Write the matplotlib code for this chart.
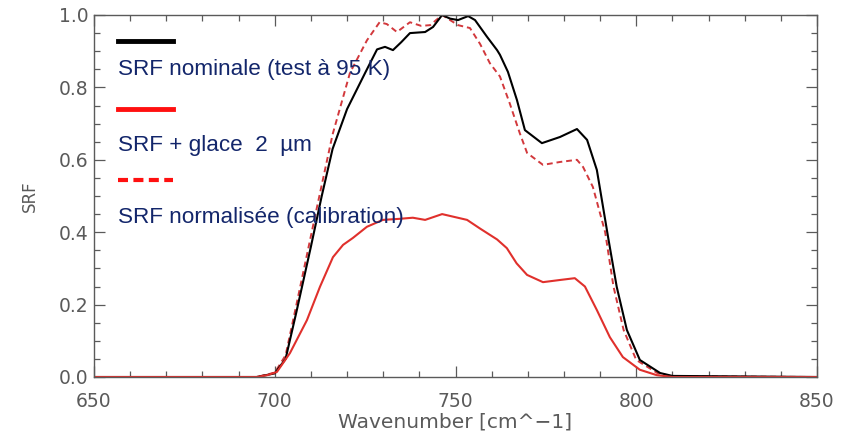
import matplotlib
matplotlib.use("Agg")
import matplotlib.pyplot as plt
from matplotlib.ticker import MultipleLocator
from matplotlib.lines import Line2D

# ---- data ----
wn_nom = [650, 695, 700, 703, 706, 710, 713, 716, 720, 725, 728.3, 730.5, 732.7, 735, 737.4,
          741.6, 743.8, 746.3, 748.5, 750.7, 753.5, 755.4, 758.7, 761.5, 762.3, 764.5, 767,
          769.2, 773.9, 778.9, 783.6, 786.4, 789.1, 792.2, 794.6, 797.4, 801, 806.6, 810, 850]
srf_nom = [0.0, 0.0, 0.01, 0.05, 0.18, 0.36, 0.50, 0.63, 0.74, 0.84, 0.905, 0.912, 0.903, 0.925, 0.95,
           0.953, 0.967, 1.0, 0.99, 0.986, 0.997, 0.986, 0.94, 0.903, 0.89, 0.843, 0.765,
           0.682, 0.646, 0.663, 0.685, 0.655, 0.572, 0.387, 0.249, 0.13, 0.047, 0.011, 0.003, 0.0]

wn_ice = [650, 695, 697.9, 700.6, 704.2, 708.9, 712.5, 716.1, 718.9, 721.6, 725.5, 729.9, 734.6,
          738.2, 741.6, 746.3, 753.2, 756.8, 761.5, 764.2, 766.9, 769.8, 774.2, 778.9, 783,
          785.8, 789.1, 792.7, 796.3, 801, 805.7, 810, 850]
srf_ice = [0.0, 0.0, 0.005, 0.014, 0.066, 0.157, 0.249, 0.331, 0.365, 0.384, 0.415, 0.434, 0.437,
           0.44, 0.434, 0.45, 0.434, 0.41, 0.38, 0.356, 0.314, 0.282, 0.262, 0.268, 0.273,
           0.25, 0.185, 0.11, 0.055, 0.02, 0.005, 0.0, 0.0]

wn_norm = [650, 695, 700, 703, 706, 711.7, 716, 720.8, 725.5, 729, 731, 733.8, 737.4, 740.5, 743,
           746.3, 750.7, 754, 756.8, 759.5, 762.3, 765, 767.8, 769.8, 774.2, 778.9, 783.6,
           785.3, 788, 791.4, 793.7, 796.5, 800, 806, 810, 850]
srf_norm = [0.0, 0.0, 0.012, 0.06, 0.2, 0.47, 0.67, 0.84, 0.93, 0.98, 0.975, 0.953, 0.98, 0.97, 0.972,
            1.0, 0.972, 0.964, 0.92, 0.867, 0.83, 0.756, 0.673, 0.619, 0.586, 0.594, 0.6,
            0.58, 0.525, 0.4, 0.25, 0.13, 0.047, 0.01, 0.002, 0.0]

legend_labels = ["SRF nominale (test à 95 K)", "SRF + glace  2  µm", "SRF normalisée (calibration)"]
xticks = [650, 700, 750, 800, 850]
yticks = [0.0, 0.2, 0.4, 0.6, 0.8, 1.0]

# ---- figure ----
fig = plt.figure(figsize=(8.54, 4.38), dpi=100)
ax = fig.add_axes([94/854, 1-377/438, (817-94)/854, (377-15)/438])

red = "#e0302c"
ax.plot(wn_norm, srf_norm, color="#d2383c", lw=1.4, ls=(0, (3, 2)))
ax.plot(wn_nom, srf_nom, color="black", lw=1.5)
ax.plot(wn_ice, srf_ice, color=red, lw=1.5)

ax.set_xlim(650, 850)
ax.set_ylim(0, 1.0)
ax.set_xticks(xticks)
ax.set_yticks(yticks)
ax.set_xticklabels([str(t) for t in xticks])
ax.set_yticklabels([f"{t:.1f}" for t in yticks])
ax.xaxis.set_minor_locator(MultipleLocator(10))
ax.yaxis.set_minor_locator(MultipleLocator(0.05))
grey = "#5a5a5a"
ax.tick_params(which="both", direction="in", top=True, right=True, color=grey,
               labelcolor=grey, labelsize=13.5, width=0.9)
ax.tick_params(which="major", length=8)
ax.tick_params(which="minor", length=4)
ax.tick_params(axis="x", which="major", pad=11)
ax.tick_params(axis="y", which="major", pad=4)
for s in ax.spines.values():
    s.set_color(grey)
    s.set_linewidth(1.0)
ax.set_xlabel("Wavenumber [cm^−1]", color=grey, fontsize=14.5, labelpad=1)
ax.set_ylabel("SRF", color=grey, fontsize=12, labelpad=14)

# ---- custom legend ----
navy = "#13266b"
fig.add_artist(Line2D([118/854, 173/854], [1-41/438, 1-41/438], color="black", lw=3.5))
fig.add_artist(Line2D([118/854, 173/854], [1-108.5/438, 1-108.5/438], color="#ff1010", lw=3.5))
fig.add_artist(Line2D([118/854, 173/854], [1-179.5/438, 1-179.5/438], color="#ff1010", lw=3.0,
                      ls=(0, (2.4, 1.3))))
for lab, yp in zip(legend_labels, [70, 145, 217]):
    fig.text(118/854, 1-yp/438, lab, color=navy, fontsize=16.2, family="Liberation Sans",
             va="center", ha="left")

fig.savefig("out.png", dpi=100)
